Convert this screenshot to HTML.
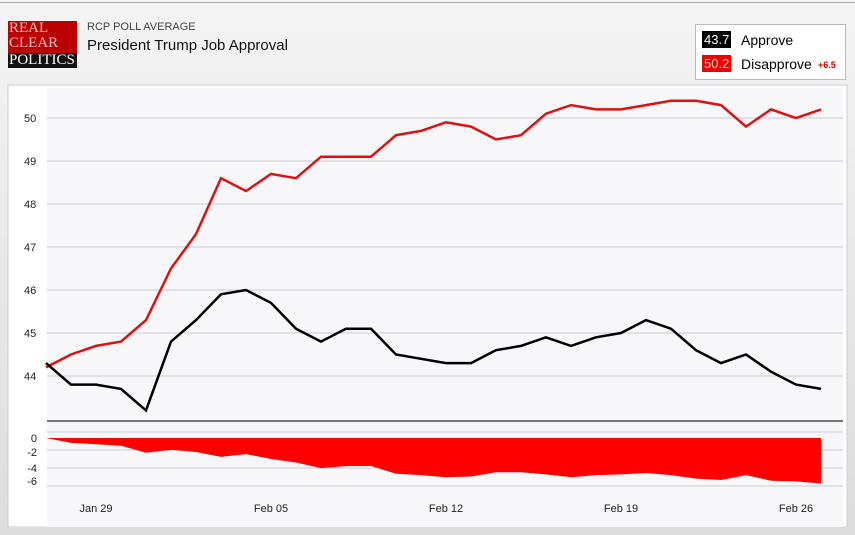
<!DOCTYPE html>
<html><head><meta charset="utf-8">
<style>
body{margin:0;width:855px;height:535px;overflow:hidden;font-family:"Liberation Sans",sans-serif;background:linear-gradient(#f4f4f4,#dcdcdc);position:relative}
.abs{position:absolute}
</style></head><body>
<div class="abs" style="left:0;top:2px;width:855px;height:1px;background:#aaa"></div>
<div class="abs" style="left:8px;top:21px;width:69px;height:47px;font-family:'Liberation Serif',serif;font-size:15px;line-height:15px;color:#fff">
 <div style="background:#b00;height:32px;padding-left:1px;color:#f4c0c0">REAL<br>CLEAR</div>
 <div style="background:#111;height:15px;padding-left:1px">POLITICS</div>
</div>
<div class="abs" style="left:87px;top:21px;font-size:11px;color:#444">RCP POLL AVERAGE</div>
<div class="abs" style="left:87px;top:37px;font-size:15px;color:#111">President Trump Job Approval</div>
<div class="abs" style="left:695px;top:24px;width:149px;height:54px;background:#fff;border:1px solid #bbb">
 <div class="abs" style="left:6px;top:6px;background:#000;color:#fff;font-size:13px;padding:1px 2px">43.7</div>
 <div class="abs" style="left:45px;top:7px;font-size:14px">Approve</div>
 <div class="abs" style="left:6px;top:30px;background:#e00;color:#fcc;font-size:13px;padding:1px 2px">50.2</div>
 <div class="abs" style="left:45px;top:31px;font-size:14px">Disapprove</div>
 <div class="abs" style="left:122px;top:35px;font-size:9px;color:#c00;font-weight:bold">+6.5</div>
</div>
<svg class="abs" style="left:0;top:0" width="855" height="535">
 <rect x="8" y="85" width="839" height="442" fill="#fff" stroke="#ccc"/>
 <rect x="47" y="88" width="796" height="439" fill="#f7f7fa"/>
 <g id="grid"></g>
 <line x1="47" x2="843" y1="421" y2="421" stroke="#777" stroke-width="2"/>
 <g id="marks"></g>
 <rect x="0" y="527" width="855" height="8" fill="#ddd"/>
</svg>
<script>
const days=["Jan 27","Jan 28","Jan 29","Jan 30","Jan 31","Feb 01","Feb 02","Feb 03","Feb 04","Feb 05","Feb 06","Feb 07","Feb 08","Feb 09","Feb 10","Feb 11","Feb 12","Feb 13","Feb 14","Feb 15","Feb 16","Feb 17","Feb 18","Feb 19","Feb 20","Feb 21","Feb 22","Feb 23","Feb 24","Feb 25","Feb 26","Feb 27"];
const approve=[44.3,43.8,43.8,43.7,43.2,44.8,45.3,45.9,46.0,45.7,45.1,44.8,45.1,45.1,44.5,44.4,44.3,44.3,44.6,44.7,44.9,44.7,44.9,45.0,45.3,45.1,44.6,44.3,44.5,44.1,43.8,43.7];
const disapprove=[44.2,44.5,44.7,44.8,45.3,46.5,47.3,48.6,48.3,48.7,48.6,49.1,49.1,49.1,49.6,49.7,49.9,49.8,49.5,49.6,50.1,50.3,50.2,50.2,50.3,50.4,50.4,50.3,49.8,50.2,50.0,50.2];
const yTicks=[44,45,46,47,48,49,50];
const spreadTicks=[0,-2,-4,-6];
const xTickLabels=["Jan 29","Feb 05","Feb 12","Feb 19","Feb 26"];
const NS="http://www.w3.org/2000/svg";
const xs=i=>46+i*25;
const ys=v=>118+(50-v)*43;
const ss=v=>438-v*7;
function mk(tag,attrs,parent,text){const e=document.createElementNS(NS,tag);for(const k in attrs)e.setAttribute(k,attrs[k]);if(text!==undefined)e.textContent=text;parent.appendChild(e);return e;}
const grid=document.getElementById('grid'),marks=document.getElementById('marks');
yTicks.forEach(t=>{
 const l=mk('line',{x1:47,x2:843,y1:ys(t),y2:ys(t),stroke:'#c8c8d0'},grid);
 
 
 const tx=mk('text',{x:24,y:ys(t)+4,'font-size':11,fill:'#222'},grid,String(t));
 
 
});
spreadTicks.forEach((t,i)=>{
 const gy=[432,450,468,486][i];
 const l=mk('line',{x1:47,x2:843,y1:gy,y2:gy,stroke:'#c8c8d0'},grid);
 
 
 const tx=mk('text',{x:37,y:ss(t*18/14)+4- (t===0?0:0),'text-anchor':'end','font-size':11,fill:'#222'},grid,String(t));
 tx.setAttribute('y',[442,456,472,485][i]);
 
 
});
xTickLabels.forEach(lab=>{
 const i=days.indexOf(lab==="Feb 05"?"Feb 05":lab);
 const tx=mk('text',{x:xs(i),y:512,'text-anchor':'middle','font-size':11,fill:'#222'},grid,lab);
 
 
});
let d='M'+xs(0)+','+ss(0);
approve.forEach((a,i)=>{d+=' L'+xs(i)+','+ss(a-disapprove[i]<0?a-disapprove[i]:0);});
d+=' L'+xs(approve.length-1)+','+ss(0)+' Z';
const area=mk('path',{d:d,fill:'#f00'},marks);


const dp=mk('path',{d:disapprove.map((v,i)=>(i?'L':'M')+xs(i)+','+ys(v)).join(' '),fill:'none',stroke:'#d11',"stroke-width":2.5},marks);


const ap=mk('path',{d:approve.map((v,i)=>(i?'L':'M')+xs(i)+','+ys(v)).join(' '),fill:'none',stroke:'#000',"stroke-width":2.5},marks);


</script>
</body></html>
